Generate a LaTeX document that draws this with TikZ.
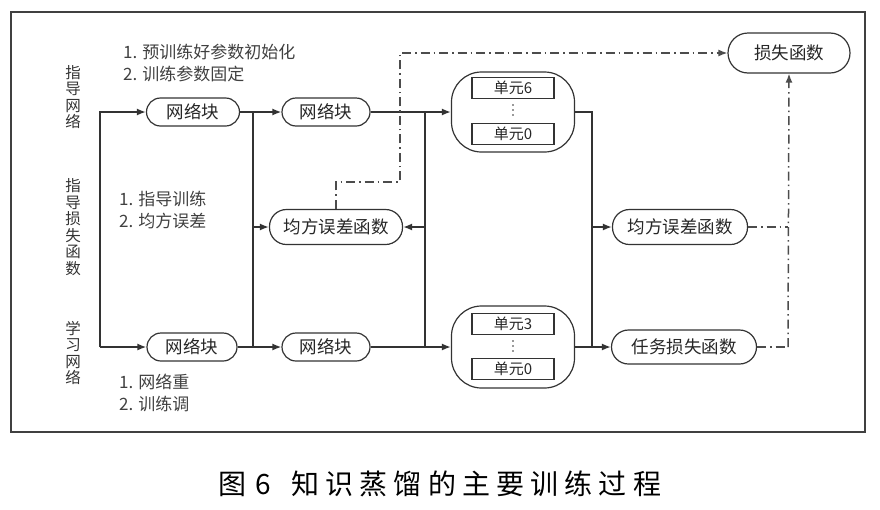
\documentclass[tikz,border=0pt]{standalone}
\usepackage{fontspec}
\setmainfont{Liberation Sans}
\newfontfamily\cjk{Noto Sans CJK SC}
\newfontfamily\capfont[LetterSpace=22]{Noto Sans CJK SC}
\usetikzlibrary{arrows.meta}
\begin{document}
\begin{tikzpicture}[x=1pt,y=-1pt,
  ln/.style={draw=black!80, line width=1.6pt},
  arr/.style={ln, -{Latex[length=9pt,width=7pt]}},
  dd/.style={draw=black!70, line width=1.5pt, dash pattern=on 9pt off 4pt on 1.5pt off 4pt},
  dda/.style={dd, -{Latex[length=9pt,width=7pt]}},
  blk/.style={draw=black!80, line width=1.2pt, rounded corners=14pt, minimum height=28pt,
    inner sep=0pt, font=\cjk\fontsize{17.5}{17.5}\selectfont, text=black!85},
  fn/.style={blk, rounded corners=17pt, minimum height=35pt},
  grp/.style={draw=black!80, line width=1.2pt, rounded corners=30pt, minimum width=123pt, inner sep=0pt},
  unit/.style={draw=black!80, line width=1.2pt, minimum width=82pt, minimum height=21pt, inner sep=0pt,
    font=\cjk\fontsize{15}{15}\selectfont, text=black!85},
  vlab/.style={align=center, inner sep=0pt, font=\cjk\fontsize{15.5}{16.5}\selectfont, text=black!80},
  note/.style={align=left, anchor=west, inner sep=0pt, font=\cjk\fontsize{17}{22}\selectfont, text=black!75}
]
\useasboundingbox (0,0) rectangle (880,509);
\draw[draw=black!75, line width=1.6pt] (11,12) rectangle (865,432);

% nodes
\node[blk, minimum width=93pt] (t1) at (193,112) {网络块};
\node[blk, minimum width=88pt] (t2) at (326,112) {网络块};
\node[blk, minimum width=90pt] (b1) at (192,347) {网络块};
\node[blk, minimum width=88pt] (b2) at (326,347) {网络块};
\node[grp, minimum height=80pt] (gT) at (513,112) {};
\node[grp, minimum height=82pt] (gB) at (513,347) {};
\node[unit] (u6) at (513,88) {单元6};
\node[unit] (u0) at (513,134) {单元0};
\node[unit] (v3) at (513,324) {单元3};
\node[unit] (v0) at (513,369) {单元0};
\foreach \yy in {105,110,115} \fill[black!80] (513,\yy) circle (0.9pt);
\foreach \yy in {341,346,351} \fill[black!80] (513,\yy) circle (0.9pt);
\node[fn, minimum width=133pt] (m1) at (336,227) {均方误差函数};
\node[fn, minimum width=135pt] (m2) at (680,227) {均方误差函数};
\node[fn, minimum width=145pt, minimum height=34pt] (task) at (684,347) {任务损失函数};
\node[fn, minimum width=122pt, minimum height=40pt, rounded corners=20pt] (loss) at (789,53) {损失函数};

% labels
\node[vlab] (l1) at (73,97) {指\\导\\网\\络};
\node[vlab] (l2) at (73,227) {指\\导\\损\\失\\函\\数};
\node[vlab] (l3) at (73,353) {学\\习\\网\\络};
\node[note] (n1) at (123,63) {1. 预训练好参数初始化\\2. 训练参数固定};
\node[note] (n2) at (119,210) {1. 指导训练\\2. 均方误差};
\node[note] (n3) at (119,393) {1. 网络重\\2. 训练调};
\node (cap) at (440,484) {\capfont\fontsize{28}{28}\selectfont 图\hspace{9pt}6\hspace{20pt}知识蒸馏的主要训练过程};

% coordinates
\coordinate (lt) at (100,112);
\coordinate (lb) at (100,347);
\coordinate (j1t) at (253,112);
\coordinate (j1b) at (253,347);
\coordinate (j2t) at (425,112);
\coordinate (j2b) at (425,347);
\coordinate (j3t) at (592,112);
\coordinate (j3b) at (592,347);
\coordinate (d2) at (400,182);
\coordinate (d3) at (400,53);
\coordinate (d4) at (788,227);
\coordinate (d5) at (788,347);

% connectors
\draw[arr] (lb) -- (lt) -- (t1.west);
\draw[arr] (lb) -- (b1.west);
\draw[arr] (t1.east) -- (t2.west);
\draw[ln] (j1t) -- (j1b);
\draw[arr] (b1.east) -- (b2.west);
\draw[arr] (j1t |- m1.west) -- (m1.west);
\draw[arr] (t2.east) -- (gT.west);
\draw[ln] (j2t) -- (j2b);
\draw[arr] (b2.east) -- (gB.west);
\draw[arr] (j2t |- m1.east) -- (m1.east);
\draw[ln] (gT.east) -- (j3t) -- (j3b);
\draw[arr] (gB.east) -- (task.west);
\draw[arr] (j3t |- m2.west) -- (m2.west);
\draw[dda] (m1.north) |- (d2) -- (d3) -- (loss.west);
\draw[dd] (m2.east) -- (d4);
\draw[dd] (task.east) -- (d5);
\draw[dda] (d5) -- (loss.south);
\end{tikzpicture}
\end{document}
